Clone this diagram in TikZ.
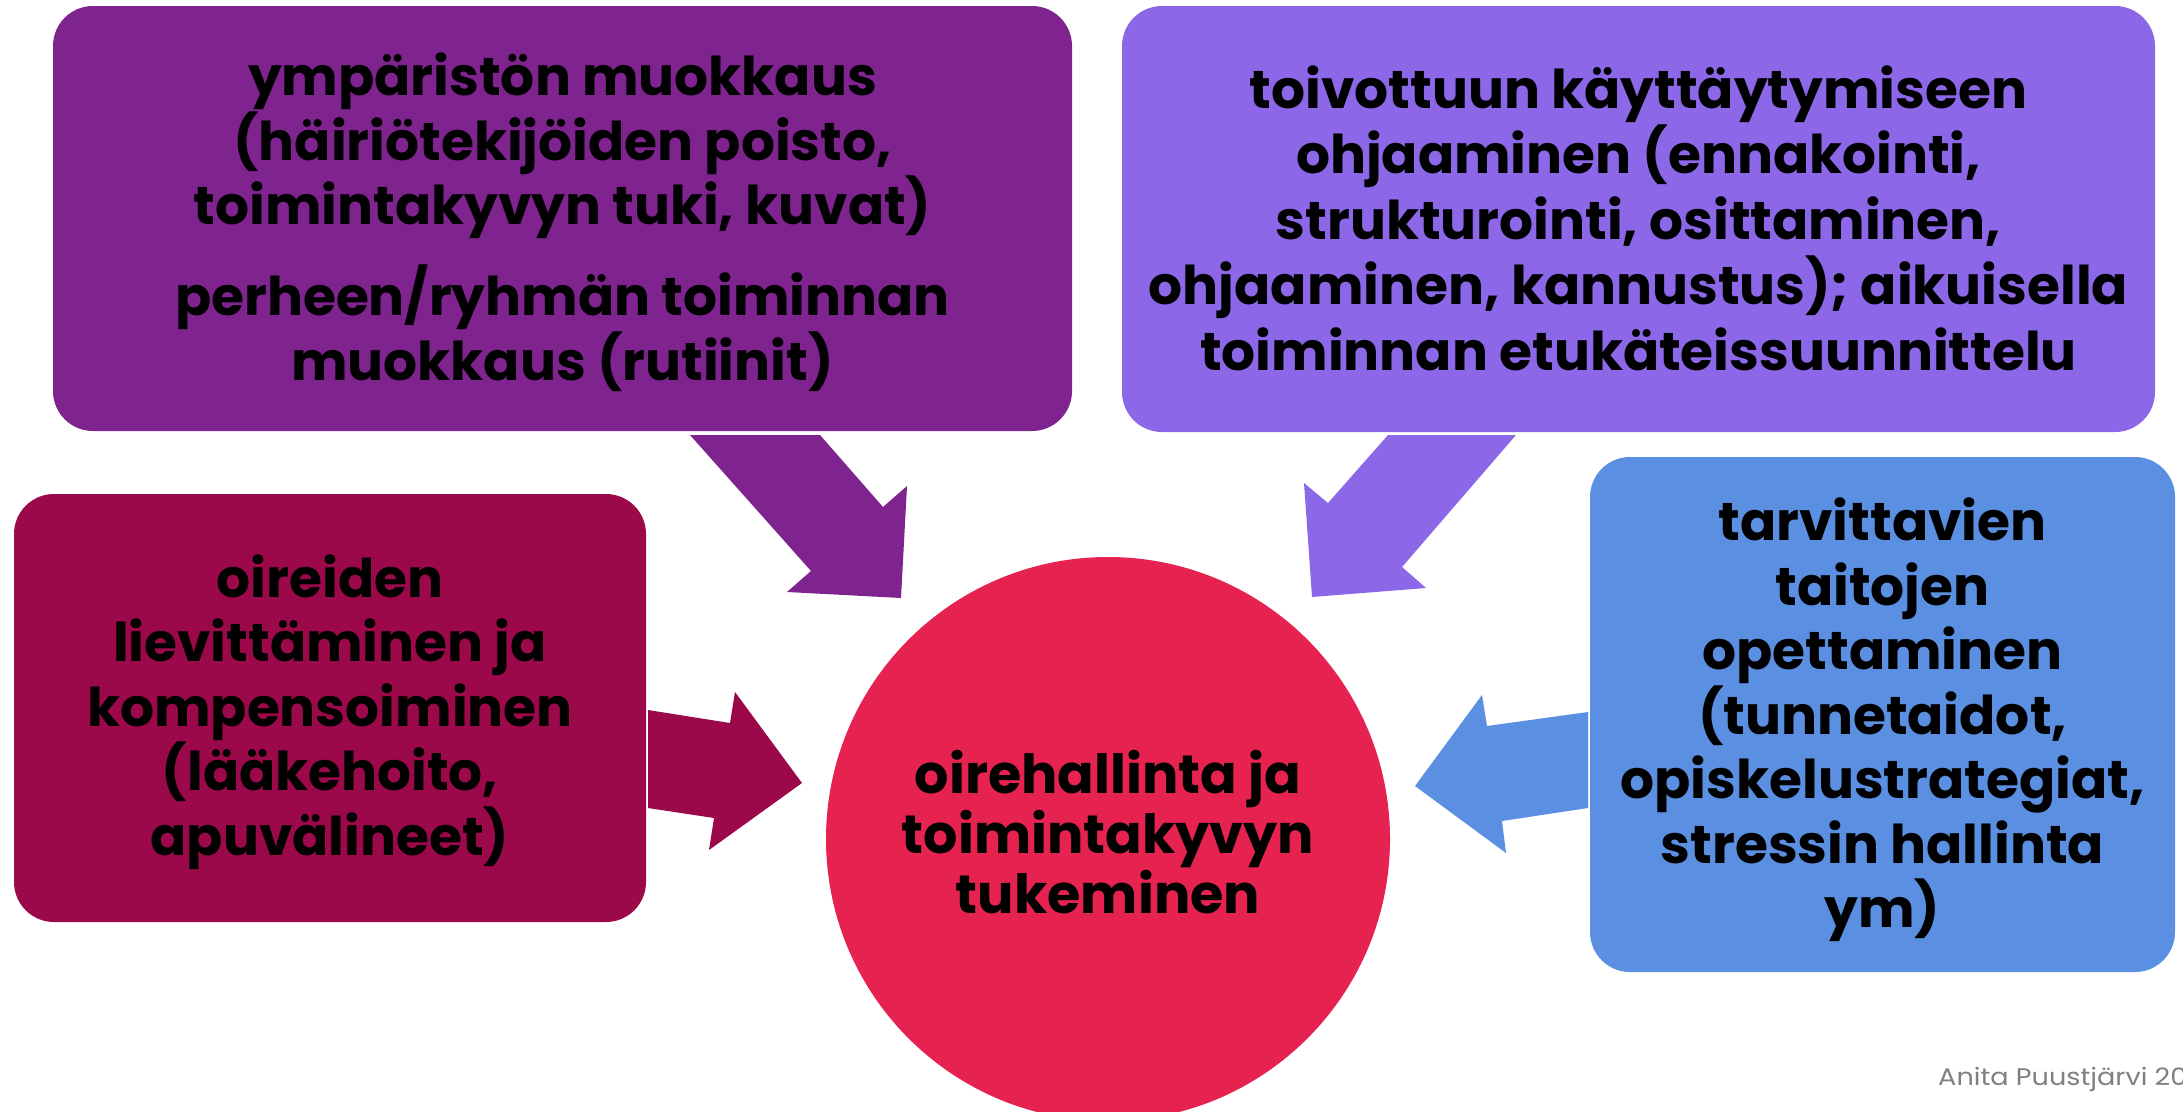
\documentclass[tikz,border=0pt]{standalone}
\usepackage{fontspec}
\setmainfont{Poppins}
\definecolor{cTL}{RGB}{127,35,143}
\definecolor{cTR}{RGB}{140,104,232}
\definecolor{cL}{RGB}{156,9,74}
\definecolor{cR}{RGB}{90,143,225}
\definecolor{cC}{RGB}{229,34,80}
\definecolor{cFoot}{RGB}{128,128,128}
\begin{document}
\begin{tikzpicture}[x=1pt,y=-1pt,
  box/.style={rounded corners=40pt, inner sep=0pt, align=center, text=black,
    font=\fontsize{53.4}{64}\selectfont\bfseries},
  boxtext/.style={inner sep=0pt, align=center, text=black,
    font=\fontsize{53.4}{64.5}\selectfont\bfseries},
  ctext/.style={circle, inner sep=0pt, align=center, text=black,
    font=\fontsize{54}{60}\selectfont\bfseries}]
\clip (0,0) rectangle (2183,1111);
\fill[white] (0,0) rectangle (2183,1111);
% boxes
\node[box, fill=cTL, minimum width=1019pt, minimum height=425pt] (tl) at (562.5,218.5) {};
\node[box, fill=cTR, minimum width=1033pt, minimum height=426pt] (tr) at (1638.5,219) {};
\node[box, fill=cL, minimum width=632pt, minimum height=428pt] (l) at (330,708) {};
\node[box, fill=cR, minimum width=585pt, minimum height=515pt] (r) at (1882.5,714.5) {};
\node[circle, fill=cC, minimum size=564pt, inner sep=0pt] (c) at (1108,839) {};
% texts
\node[boxtext] (tlt) at (562.5,222)
  {ympäristön muokkaus\\(häiriötekijöiden poisto,\\toimintakyvyn tuki, kuvat)\\[25pt]perheen/ryhmän toiminnan\\muokkaus (rutiinit)};
\node[boxtext, font=\fontsize{53.4}{65.5}\selectfont\bfseries] (trt) at (1638.5,218)
  {toivottuun käyttäytymiseen\\ohjaaminen (ennakointi,\\strukturointi, osittaminen,\\ohjaaminen, kannustus); aikuisella\\toiminnan etukäteissuunnittelu};
\node[boxtext] (lt) at (330,712)
  {oireiden\\lievittäminen ja\\kompensoiminen\\(lääkehoito,\\apuvälineet)};
\node[boxtext] (rt) at (1882.5,720)
  {tarvittavien\\taitojen\\opettaminen\\(tunnetaidot,\\opiskelustrategiat,\\stressin hallinta\\ym)};
\node[ctext] (ct) at (1108,832) {oirehallinta ja\\toimintakyvyn\\tukeminen};
% block arrows
\fill[cTL] (690,435) -- (820,435) -- (883,507) -- (907,486) -- (901,598) -- (787,592) -- (811,571) -- cycle;
\fill[cTR] (1516,435) -- (1388,435) -- (1328,503) -- (1304,483) -- (1312,597) -- (1426,588) -- (1402,567) -- cycle;
\fill[cL] (648,710) -- (730,723) -- (735,692) -- (802,783) -- (709,850) -- (714,818) -- (648,808) -- cycle;
\fill[cR] (1588,712) -- (1487,726) -- (1482,695) -- (1415,786) -- (1506,853) -- (1502,821) -- (1588,808) -- cycle;
% footer
\node[anchor=base west, inner sep=0pt, text=cFoot, font=\fontsize{24}{28}\selectfont] (foot) at (1938,1085) {\scalebox{1.13}[1]{Anita Puustjärvi 20}};
\end{tikzpicture}
\end{document}
